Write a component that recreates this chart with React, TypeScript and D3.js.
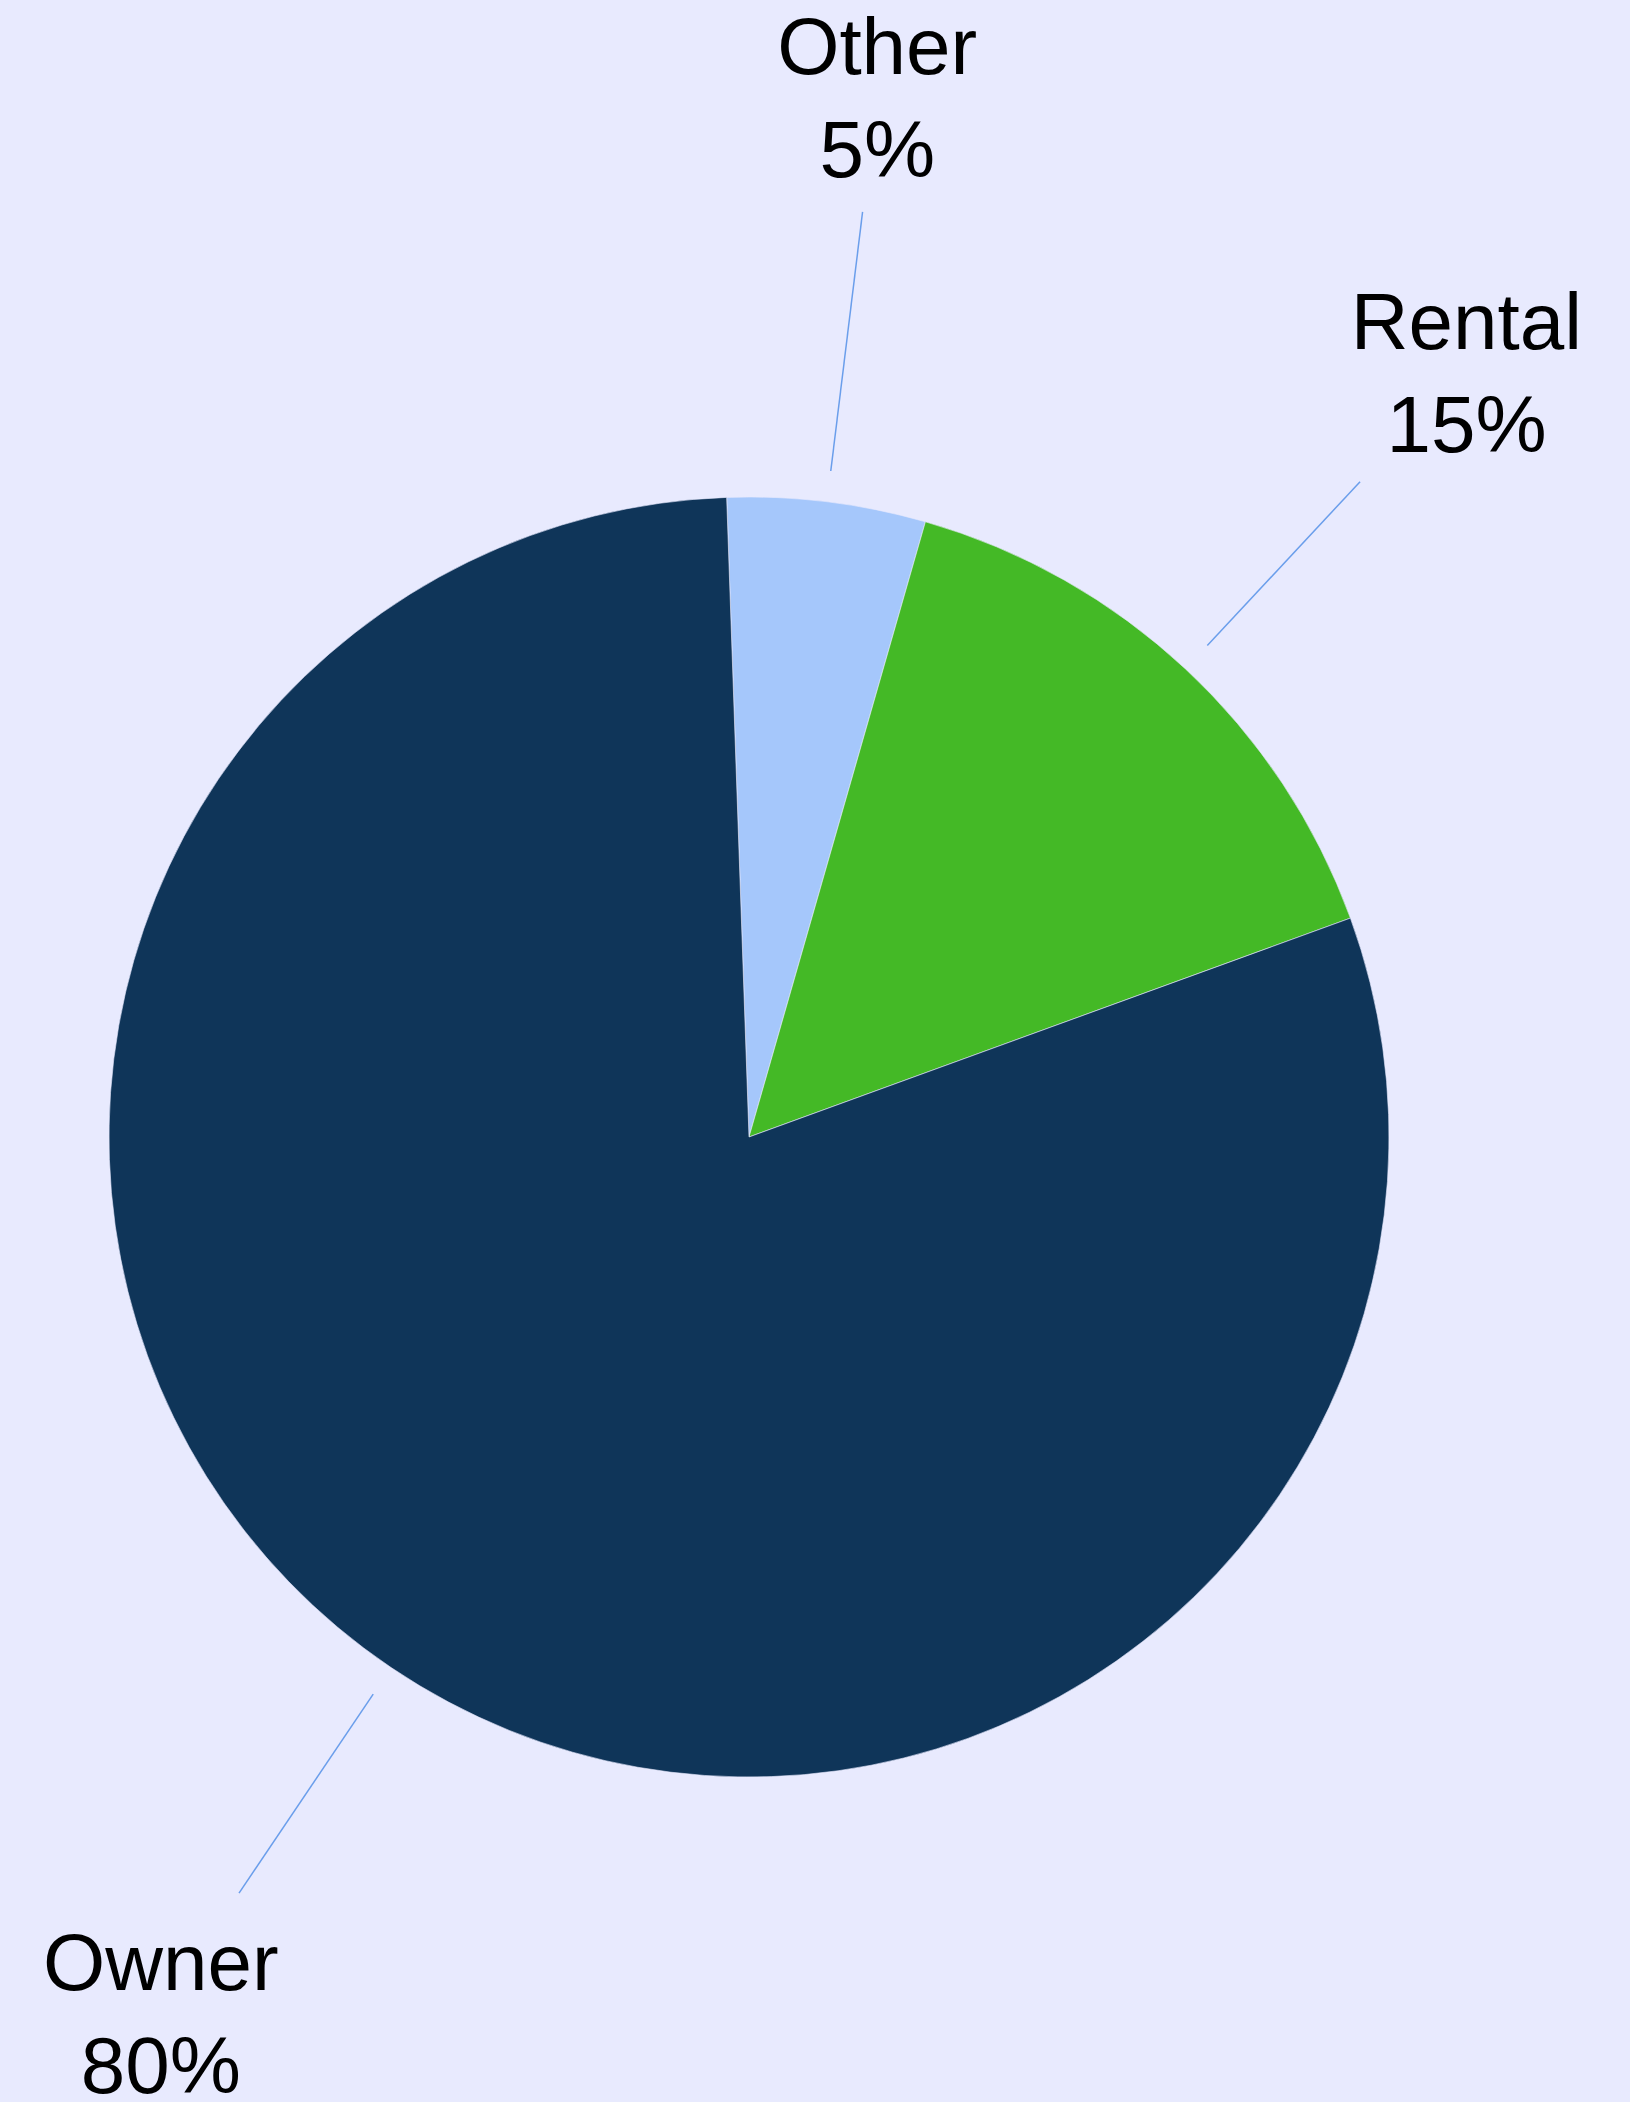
import React from "react";
import * as d3 from "d3";

const categories = ["Other", "Rental", "Owner"];
const values = [5, 15, 80];
const labels = ["5%", "15%", "80%"];
const colors = ["#A5C7FB", "#44B926", "#0F3559"];

const W = 1630;
const H = 2102;
const CX = 749;
const CY = 1137;
const R = 640;
const OFFSET = (-2 * Math.PI) / 180;

export default function App() {
  const pie = d3
    .pie<number>()
    .sort(null)
    .value((d) => d)
    .startAngle(OFFSET)
    .endAngle(OFFSET + 2 * Math.PI);
  const arcs = pie(values);
  const arcGen = d3.arc<d3.PieArcDatum<number>>().innerRadius(0).outerRadius(R);
  const pt = (a: number, r: number) => [Math.sin(a) * r, -Math.cos(a) * r];

  const leaderIn = [671, 672, 672];
  const leaderOut = [932, 896, 912];

  return (
    <svg
      width={W}
      height={H}
      style={{ position: "absolute", left: 0, top: 0, display: "block" }}
      fontFamily="'Liberation Sans', Arial, sans-serif"
    >
      <rect x={0} y={0} width={W} height={H} fill="#E8EAFE" />
      <g transform={`translate(${CX},${CY})`}>
        {arcs.map((a, i) => (
          <path key={categories[i]} d={arcGen(a) || ""} fill={colors[i]} stroke="#E8EAFE" strokeWidth={0.6} />
        ))}
        {arcs.map((a, i) => {
          const mid = (a.startAngle + a.endAngle) / 2;
          const [x1, y1] = pt(mid, leaderIn[i]);
          const [x2, y2] = pt(mid, leaderOut[i]);
          const [tx, ty] = pt(mid, 1052);
          return (
            <g key={"l" + i}>
              <line x1={x1} y1={y1} x2={x2} y2={y2} stroke="#6A9EEB" strokeWidth={1.5} />
              <text x={tx} y={ty - 19} textAnchor="middle" fontSize={80} fill="#000">
                {categories[i]}
              </text>
              <text x={tx} y={ty + 84} textAnchor="middle" fontSize={80} fill="#000">
                {labels[i]}
              </text>
            </g>
          );
        })}
      </g>
    </svg>
  );
}
